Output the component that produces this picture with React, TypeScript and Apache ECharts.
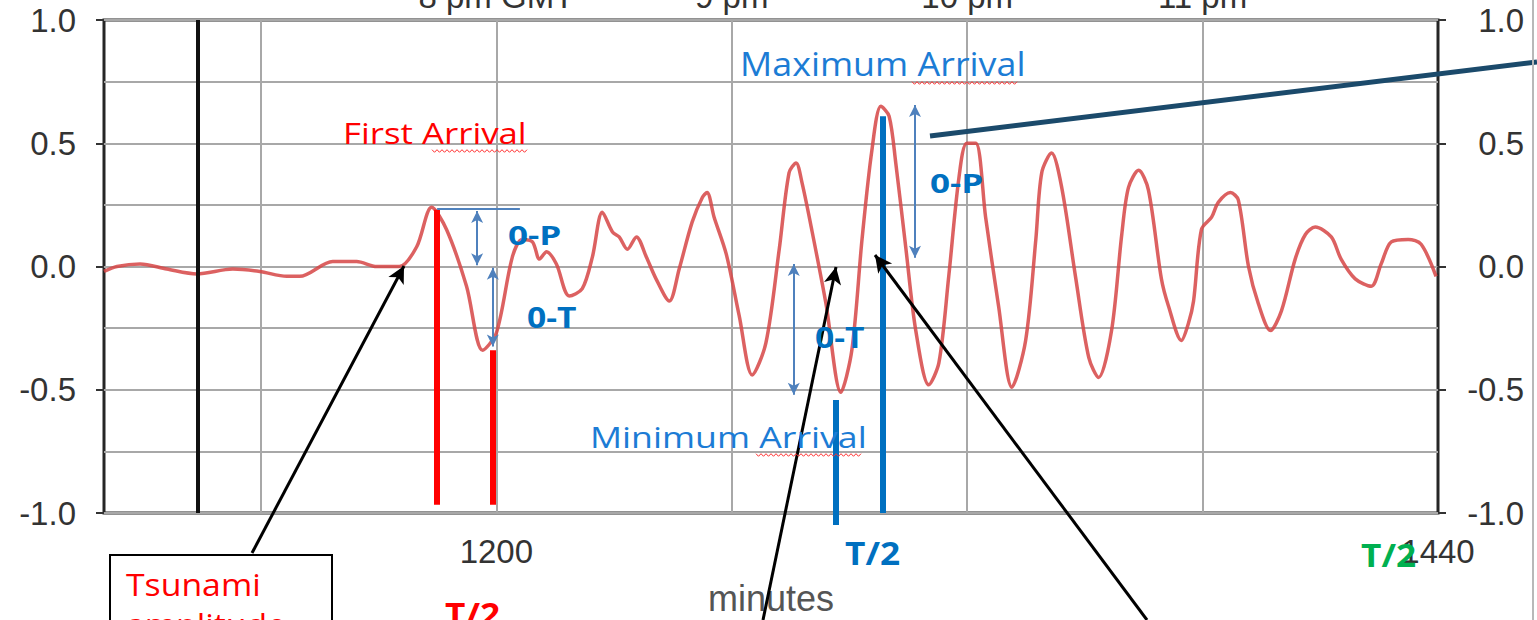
import React, { useEffect, useRef } from 'react';
import * as echarts from 'echarts';

// ---- data ----
const waveMinutes = [
  1100, 1103.3, 1109.2, 1116.0, 1123.7, 1132.8, 1139.7, 1146.6, 1149.9, 1158.3,
  1164.4, 1169.5, 1175.3, 1179.7, 1183.5, 1187.3, 1192.4, 1196.5, 1200.0, 1204.1,
  1206.6, 1209.2, 1211.0, 1212.8, 1215.3, 1218.6, 1221.9, 1224.5, 1227.0, 1229.6,
  1231.3, 1233.4, 1235.7, 1238.2, 1240.7, 1244.1, 1246.6, 1249.9, 1252.5, 1253.7,
  1255.5, 1258.6, 1261.9, 1265.2, 1268.7, 1272.1, 1274.6, 1276.4, 1277.9, 1280.5,
  1284.0, 1287.8, 1290.6, 1293.2, 1295.7, 1298.0, 1300.1, 1301.8, 1304.4, 1306.9,
  1310.2, 1312.8, 1315.3, 1317.9, 1319.9, 1322.2, 1324.7, 1328.0, 1331.4, 1334.9,
  1337.5, 1339.0, 1341.5, 1344.1, 1347.6, 1351.0, 1353.5, 1356.8, 1359.4, 1361.1,
  1363.7, 1366.2, 1369.5, 1371.3, 1374.6, 1376.4, 1377.7, 1379.7, 1382.3, 1384.0,
  1387.1, 1389.1, 1391.7, 1394.2, 1397.3, 1400.1, 1403.6, 1406.2, 1408.7, 1412.8,
  1415.3, 1418.9, 1423.0, 1425.5, 1428.1, 1432.4, 1435.7, 1439.5,
];
const waveLevel = [
  -0.02, 0.0, 0.01, -0.01, -0.03, -0.01, -0.02, -0.04, -0.04, 0.02,
  0.02, 0.0, 0.0, 0.08, 0.24, 0.15, -0.08, -0.34, -0.27, 0.04,
  0.11, 0.10, 0.03, 0.06, 0.01, -0.12, -0.09, 0.04, 0.22, 0.14,
  0.12, 0.07, 0.12, 0.04, -0.05, -0.14, -0.01, 0.18, 0.28, 0.30,
  0.20, 0.05, -0.20, -0.44, -0.31, 0.07, 0.38, 0.42, 0.34, 0.14,
  -0.15, -0.51, -0.34, 0.11, 0.47, 0.65, 0.61, 0.42, 0.07, -0.26,
  -0.48, -0.39, -0.04, 0.36, 0.50, 0.50, 0.20, -0.16, -0.49, -0.30,
  0.11, 0.38, 0.46, 0.32, -0.04, -0.37, -0.45, -0.26, 0.13, 0.32,
  0.39, 0.31, -0.05, -0.16, -0.30, -0.23, -0.14, 0.15, 0.20, 0.26,
  0.30, 0.27, 0.00, -0.15, -0.26, -0.18, 0.03, 0.13, 0.16, 0.12,
  0.03, -0.05, -0.08, 0.01, 0.10, 0.11, 0.09, -0.04,
];
const gridMinutes = [1140, 1200, 1260, 1320, 1380];
const bottomTicks = [1200, 1440];
const hourTicks = [1200, 1260, 1320, 1380];
const hourLabels = ['8 pm GMT', '9 pm', '10 pm', '11 pm'];
const quakeMinute = 1124;

// annotation anchors (minute, level)
const firstPeakMinute = 1184.9;
const firstPeakLevel = 0.23;
const firstTroughMinute = 1199.1;
const firstTroughLevel = -0.34;
const maxMinute = 1298.5;
const maxLevel = 0.61;

const AXIS_FONT = 'Liberation Sans';
const NOTE_FONT = 'Open Sans';

const blueThin = { color: '#4f81bd', width: 2, type: 'solid' as const };
const redThick = { color: '#ff0000', width: 6, type: 'solid' as const };
const blueThick = { color: '#0070c0', width: 6, type: 'solid' as const };
const blackArrow = { color: '#000000', width: 3, type: 'solid' as const };

function note(text: string, x: number, y: number, size: number, color: string, bold: boolean, sx: number) {
  return {
    type: 'text',
    x,
    y,
    scaleX: sx,
    z: 100,
    silent: true,
    style: {
      text,
      fill: color,
      fontSize: size,
      fontFamily: NOTE_FONT,
      fontWeight: bold ? 'bold' : 'normal',
      align: 'left',
      verticalAlign: 'middle',
      textAlign: 'left',
      textVerticalAlign: 'middle',
    },
  };
}

function squiggle(x0: number, x1: number, y: number) {
  const pts: number[][] = [];
  let up = true;
  for (let x = x0; x <= x1; x += 2.5) {
    pts.push([x, up ? y - 1.3 : y + 1.3]);
    up = !up;
  }
  return {
    type: 'polyline',
    z: 100,
    silent: true,
    shape: { points: pts },
    style: { stroke: '#ff3030', lineWidth: 1, fill: 'none' },
  };
}

function dArrow(minute: number, top: number, bottom: number) {
  return [
    { coord: [minute, top], symbol: 'arrow', symbolSize: [9, 12], lineStyle: blueThin },
    { coord: [minute, bottom], symbol: 'arrow', symbolSize: [9, 12] },
  ];
}

export default function App() {
  const ref = useRef<HTMLDivElement>(null);

  useEffect(() => {
    if (!ref.current) return;
    const chart = echarts.init(ref.current, null, { renderer: 'svg' });

    const axisLabelStyle = { fontFamily: AXIS_FONT, fontSize: 33, color: '#333333' };
    const tickStyle = { color: '#333333', width: 2 };

    const option: any = {
      animation: false,
      backgroundColor: '#ffffff',
      grid: {
        left: 104,
        right: 99,
        top: 20,
        bottom: 107,
        show: true,
        outerBoundsMode: 'none',
        containLabel: false,
        borderColor: '#262626',
        borderWidth: 3,
        backgroundColor: 'transparent',
      },
      xAxis: [
        {
          type: 'value',
          position: 'bottom',
          min: 1100,
          max: 1440,
          interval: 20,
          axisLine: { show: false },
          splitLine: { show: false },
          axisTick: { show: true, customValues: bottomTicks, length: 7, lineStyle: tickStyle },
          axisLabel: {
            customValues: bottomTicks,
            formatter: (v: number) => (bottomTicks.includes(v) ? String(v) : ''),
            margin: 22,
            ...axisLabelStyle,
          },
          name: 'minutes',
          nameLocation: 'middle',
          nameGap: 67,
          nameTextStyle: { fontFamily: AXIS_FONT, fontSize: 36, color: '#555555' },
        },
        {
          type: 'value',
          position: 'top',
          min: 1100,
          max: 1440,
          interval: 20,
          axisLine: { show: false },
          splitLine: { show: false },
          axisTick: { show: true, customValues: hourTicks, length: 7, lineStyle: tickStyle },
          axisLabel: {
            customValues: hourTicks,
            formatter: (v: number) => {
              const i = hourTicks.indexOf(v);
              return i >= 0 ? hourLabels[i] : '';
            },
            margin: 7,
            ...axisLabelStyle,
          },
        },
      ],
      yAxis: [
        {
          type: 'value',
          position: 'left',
          min: -1,
          max: 1,
          interval: 0.5,
          axisLine: { show: false },
          axisTick: { show: true, length: 8, lineStyle: tickStyle },
          axisLabel: { formatter: (v: number) => v.toFixed(1), margin: 28, ...axisLabelStyle },
          splitLine: { show: true, lineStyle: { color: '#a8a8a8', width: 2 } },
          minorTick: { show: false, splitNumber: 2 },
          minorSplitLine: { show: true, lineStyle: { color: '#a8a8a8', width: 2 } },
        },
        {
          type: 'value',
          position: 'right',
          min: -1,
          max: 1,
          interval: 0.5,
          axisLine: { show: false },
          axisTick: { show: true, length: 8, lineStyle: tickStyle },
          axisLabel: { formatter: (v: number) => v.toFixed(1), margin: 86, align: 'right', ...axisLabelStyle },
          splitLine: { show: false },
        },
      ],
      series: [
        {
          name: 'grid',
          type: 'line',
          data: [],
          silent: true,
          markLine: {
            silent: true,
            z: 1,
            symbol: 'none',
            label: { show: false },
            emphasis: { disabled: true },
            lineStyle: { color: '#a8a8a8', width: 2, type: 'solid' },
            data: gridMinutes.map((m) => ({ xAxis: m })),
          },
        },
        {
          name: 'sea level',
          type: 'line',
          z: 3,
          data: waveMinutes.map((m, i) => [m, waveLevel[i]]),
          showSymbol: false,
          smooth: 0.3,
          lineStyle: { color: '#d64545', width: 3.5, opacity: 0.85 },
        },
        {
          name: 'notes',
          type: 'line',
          data: [],
          silent: true,
          markLine: {
            silent: true,
            z: 6,
            symbol: 'none',
            label: { show: false },
            emphasis: { disabled: true },
            data: [
              [
                { coord: [quakeMinute, 1], lineStyle: { color: '#111111', width: 4, type: 'solid' } },
                { coord: [quakeMinute, -1] },
              ],
              [
                { coord: [firstPeakMinute, firstPeakLevel], lineStyle: redThick },
                { coord: [firstPeakMinute, -0.967] },
              ],
              [
                { coord: [firstTroughMinute, firstTroughLevel], lineStyle: redThick },
                { coord: [firstTroughMinute, -0.967] },
              ],
              [
                { coord: [firstPeakMinute, 0.233], lineStyle: blueThin },
                { coord: [1206, 0.233] },
              ],
              dArrow(1195.1, 0.225, 0.005),
              dArrow(firstTroughMinute, -0.005, -0.325),
              dArrow(1275.8, 0.01, -0.52),
              dArrow(1306.7, 0.655, 0.035),
              [
                { coord: [maxMinute, maxLevel], lineStyle: blueThick },
                { coord: [maxMinute, -1] },
              ],
              [
                { x: 836, y: 400, lineStyle: blueThick },
                { x: 836, y: 525 },
              ],
              [
                { x: 930, y: 136, lineStyle: { color: '#1b4a6b', width: 5, type: 'solid' } },
                { x: 1537, y: 62 },
              ],
              [
                { x: 252, y: 553, lineStyle: blackArrow },
                { x: 404, y: 266, symbol: 'arrow', symbolSize: [13, 17] },
              ],
              [
                { x: 763, y: 620, lineStyle: blackArrow },
                { x: 836, y: 267, symbol: 'arrow', symbolSize: [13, 17] },
              ],
              [
                { x: 1147, y: 620, lineStyle: blackArrow },
                { x: 875, y: 255, symbol: 'arrow', symbolSize: [13, 17] },
              ],
            ],
          },
        },
      ],
      graphic: [
        {
          type: 'line',
          z: 90,
          silent: true,
          shape: { x1: 1533, y1: 0, x2: 1533, y2: 620 },
          style: { stroke: '#b8b8b8', lineWidth: 2 },
        },
        {
          type: 'rect',
          z: 95,
          silent: true,
          shape: { x: 110, y: 555, width: 222, height: 100 },
          style: { fill: '#ffffff', stroke: '#000000', lineWidth: 2 },
        },
        note('First Arrival', 343, 133, 29, '#ff0000', false, 1.2),
        note('Maximum Arrival', 740, 64, 32, '#1c7cd5', false, 1.12),
        note('Minimum Arrival', 590, 437, 30, '#1c7cd5', false, 1.19),
        note('0-P', 508, 235, 27, '#0070c0', true, 1.3),
        note('0-T', 527, 317, 28, '#0070c0', true, 1.2),
        note('0-T', 815, 337, 28, '#0070c0', true, 1.2),
        note('0-P', 930, 183, 27, '#0070c0', true, 1.3),
        note('T/2', 445, 614, 32, '#ff0000', true, 1.1),
        note('T/2', 845, 553, 32, '#0070c0', true, 1.1),
        note('T/2', 1361, 555, 32, '#00b050', true, 1.1),
        note('Tsunami', 126, 584, 31, '#ff0000', false, 1.09),
        note('amplitude', 126, 624, 31, '#ff0000', false, 1.09),
        squiggle(432, 528, 151),
        squiggle(912, 1018, 83),
        squiggle(756, 862, 455),
      ],
    };

    chart.setOption(option);
    return () => chart.dispose();
  }, []);

  return (
    <div
      ref={ref}
      style={{ position: 'fixed', left: 0, top: 0, width: 1537, height: 620, background: '#ffffff' }}
    />
  );
}
